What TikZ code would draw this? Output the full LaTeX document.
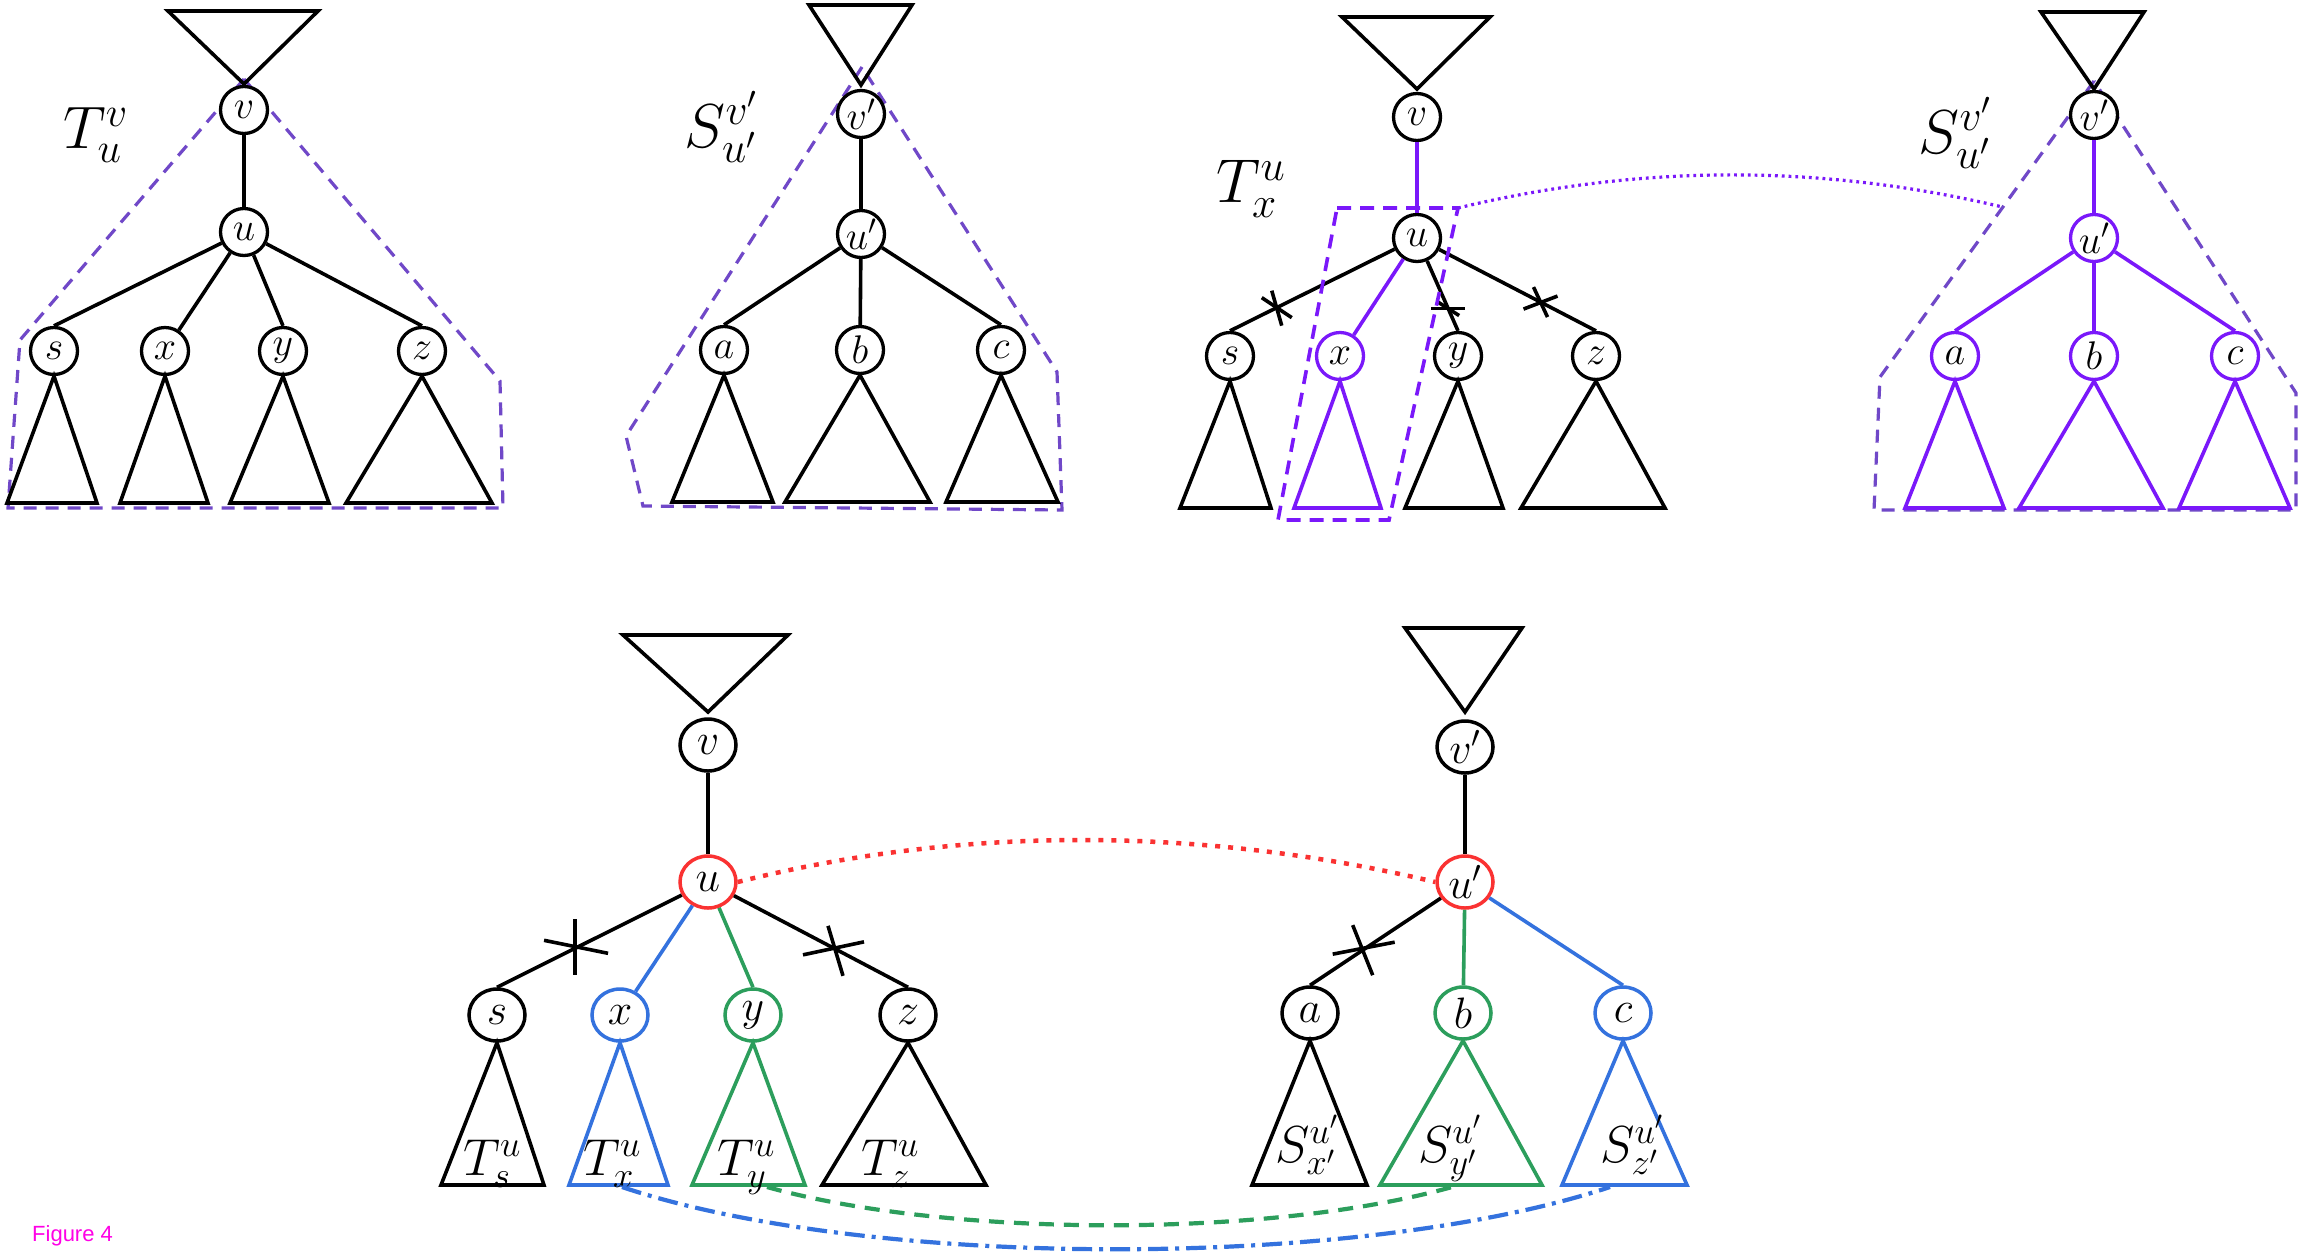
\RequirePackage{fix-cm}
\documentclass[tikz,border=0pt]{standalone}
\usepackage{fontspec}
\newfontfamily\capfont{Liberation Sans}
\usetikzlibrary{shapes.geometric,calc}

\definecolor{hullpurple}{RGB}{112,72,200}
\definecolor{vio}{RGB}{122,24,250}
\definecolor{matchred}{RGB}{250,50,50}
\definecolor{matchblue}{RGB}{52,114,222}
\definecolor{matchgreen}{RGB}{44,158,92}
\definecolor{figmagenta}{RGB}{255,0,230}

\tikzset{
  tree/.style={line width=3.6pt},
  tn/.style={circle, draw, line width=3.3pt, fill=white, minimum size=47pt,
    inner sep=0pt, font=\fontsize{40}{40}\selectfont},
  bn/.style={ellipse, draw, line width=3.5pt, fill=white, minimum width=56pt,
    minimum height=52pt, inner sep=0pt, font=\fontsize{44}{44}\selectfont},
  hull/.style={hullpurple, line width=3.2pt, dash pattern=on 13pt off 9pt},
  boxhull/.style={vio, line width=3.6pt, dash pattern=on 14pt off 9pt},
  biglabel/.style={inner sep=0pt, font=\fontsize{62}{62}\selectfont},
  sublabel/.style={inner sep=0pt, anchor=base west, font=\fontsize{52}{52}\selectfont},
  vlink/.style={vio, line width=3.2pt, dash pattern=on 2.8pt off 4pt},
  redlink/.style={matchred, line width=4.5pt, dash pattern=on 5pt off 8pt},
  greenlink/.style={matchgreen, line width=4.2pt, dash pattern=on 15pt off 10pt},
  bluelink/.style={matchblue, line width=4.2pt, dash pattern=on 20pt off 7pt on 4pt off 7pt},
}

\begin{document}
\begin{tikzpicture}[x=1pt,y=-1pt]
\path[use as bounding box, fill=white] (0,0) rectangle (2304,1251);

%% ---------------- panel 1: T_u^v ----------------
\draw[hull] (244,79) -- (20,340) -- (8,508) -- (503,508) -- (500,381) -- cycle;
\draw[tree] (244,84) -- (168,11) -- (318,11) -- cycle;
\node[tn] (v1) at (244,110) {$v$};
\node[tn] (u1) at (244,232) {$u$};
\node[tn] (s1) at (54,351) {$s$};
\node[tn] (x1) at (165,351) {$x$};
\node[tn] (y1) at (283,351) {$y$};
\node[tn] (z1) at (422,351) {$z$};
\draw[tree] (v1) -- (u1);
\draw[tree] (u1) -- (s1.north);
\draw[tree] (u1) -- (x1);
\draw[tree] (u1) -- (y1.north);
\draw[tree] (u1) -- (z1.north);
\draw[tree] (s1.south) -- (7,503) -- (97,503) -- cycle;
\draw[tree] (x1.south) -- (120,503) -- (208,503) -- cycle;
\draw[tree] (y1.south) -- (230,503) -- (329,503) -- cycle;
\draw[tree] (z1.south) -- (346,503) -- (492,503) -- cycle;
\node[biglabel, anchor=base west, font=\fontsize{60}{60}\selectfont] (l1) at (63,148) {$T_u^v$};

%% ---------------- panel 2: S_{u'}^{v'} ----------------
\draw[hull] (862,67) -- (626,436) -- (643,506) -- (1062,510) -- (1057,372) -- cycle;
\draw[tree] (861,85) -- (809,5) -- (912,5) -- cycle;
\node[tn] (v2) at (861,114) {$v'$};
\node[tn] (u2) at (861,234) {$u'$};
\node[tn] (a2) at (724,350) {$a$};
\node[tn] (b2) at (860,350) {$b$};
\node[tn] (c2) at (1001,350) {$c$};
\draw[tree] (v2) -- (u2);
\draw[tree] (u2) -- (a2.north);
\draw[tree] (u2) -- (b2);
\draw[tree] (u2) -- (c2.north);
\draw[tree] (a2.south) -- (672,502) -- (773,502) -- cycle;
\draw[tree] (b2.south) -- (785,502) -- (930,502) -- cycle;
\draw[tree] (c2.south) -- (946,502) -- (1058,502) -- cycle;
\node[biglabel] (l2) at (721,127) {$S_{u'}^{v'}$};

%% ---------------- panel 3: T_x^u ----------------
\draw[tree] (1417,89) -- (1342,17) -- (1490,17) -- cycle;
\node[tn] (v3) at (1417,117) {$v$};
\node[tn] (u3) at (1417,238) {$u$};
\node[tn] (s3) at (1230,356) {$s$};
\node[tn, draw=vio] (x3) at (1340,356) {$x$};
\node[tn] (y3) at (1458,356) {$y$};
\node[tn] (z3) at (1596,356) {$z$};
\draw[tree, vio] (v3) -- (u3);
\draw[tree] (u3) -- (s3.north);
\draw[tree, vio] (u3) -- (x3);
\draw[tree] (u3) -- (y3.north);
\draw[tree] (u3) -- (z3.north);
\draw[tree] (s3.south) -- (1180,508) -- (1271,508) -- cycle;
\draw[tree, vio] (x3.south) -- (1294,508) -- (1381,508) -- cycle;
\draw[tree] (y3.south) -- (1405,508) -- (1503,508) -- cycle;
\draw[tree] (z3.south) -- (1521,508) -- (1665,508) -- cycle;
% cut marks
\coordinate (k31) at ($(u3)!0.75!(s3.north)$);
\coordinate (k32) at ($(u3)!0.76!(y3.north)$);
\coordinate (k33) at ($(u3)!0.69!(z3.north)$);
\draw[tree] ($(k31)+(-15,-10)$) -- ($(k31)+(15,10)$);
\draw[tree] ($(k31)+(-5,-17)$) -- ($(k31)+(5,18)$);
\draw[tree] ($(k32)+(-17,0)$) -- ($(k32)+(17,0)$);
\draw[tree] ($(k32)+(-11,-7)$) -- ($(k32)+(11,7)$);
\draw[tree] ($(k33)+(-17,7)$) -- ($(k33)+(17,-6)$);
\draw[tree] ($(k33)+(-7,-15)$) -- ($(k33)+(7,15)$);
% box around T_x^u
\coordinate (bxtl) at (1337,208);
\coordinate (bxtr) at (1458,208);
\coordinate (bxbr) at (1389,520);
\coordinate (bxbl) at (1278,520);
\draw[boxhull] (bxtl) -- (bxtr) -- (bxbr) -- (bxbl) -- cycle;
\node[biglabel] (l3) at (1251,189) {$T_x^u$};

%% ---------------- panel 4: S_{u'}^{v'} highlighted ----------------
\coordinate (h4top) at (2094,81);
\coordinate (h4left) at (1880,377);
\draw[hull] (h4top) -- (h4left) -- (1874,510) -- (2296,510) -- (2296,393) -- cycle;
\draw[tree] (2094,89) -- (2041,12) -- (2144,12) -- cycle;
\node[tn] (v4) at (2094,115) {$v'$};
\node[tn, draw=vio] (u4) at (2094,238) {$u'$};
\node[tn, draw=vio] (a4) at (1955,356) {$a$};
\node[tn, draw=vio] (b4) at (2094,356) {$b$};
\node[tn, draw=vio] (c4) at (2235,356) {$c$};
\draw[tree, vio] (v4) -- (u4);
\draw[tree, vio] (u4) -- (a4.north);
\draw[tree, vio] (u4) -- (b4);
\draw[tree, vio] (u4) -- (c4.north);
\draw[tree, vio] (a4.south) -- (1905,508) -- (2004,508) -- cycle;
\draw[tree, vio] (b4.south) -- (2019,508) -- (2163,508) -- cycle;
\draw[tree, vio] (c4.south) -- (2179,508) -- (2290,508) -- cycle;
\node[biglabel] (l4) at (1955,133) {$S_{u'}^{v'}$};
% correspondence of T_x^u with S_{u'}^{v'}
\coordinate (h4hit) at ($(h4top)!0.426!(h4left)$);
\draw[vlink] (bxtr) .. controls (1640,164) and (1822,164) .. (h4hit);

%% ---------------- panel 5: bottom left ----------------
\draw[tree] (708,712) -- (623,635) -- (788,635) -- cycle;
\node[bn] (v5) at (708,745) {$v$};
\node[bn, draw=matchred] (u5) at (708,882) {$u$};
\node[bn] (s5) at (497,1015) {$s$};
\node[bn, draw=matchblue] (x5) at (620,1015) {$x$};
\node[bn, draw=matchgreen] (y5) at (753,1015) {$y$};
\node[bn] (z5) at (908,1015) {$z$};
\draw[tree] (v5) -- (u5);
\draw[tree] (u5) -- (s5.north);
\draw[tree, matchblue] (u5) -- (x5);
\draw[tree, matchgreen] (u5) -- (y5.north);
\draw[tree] (u5) -- (z5.north);
\draw[tree] (s5.south) -- (441,1185) -- (544,1185) -- cycle;
\draw[tree, matchblue] (x5.south) -- (569,1185) -- (668,1185) -- cycle;
\draw[tree, matchgreen] (y5.south) -- (692,1185) -- (805,1185) -- cycle;
\draw[tree] (z5.south) -- (822,1185) -- (986,1185) -- cycle;
\coordinate (k51) at ($(u5)!0.63!(s5.north)$);
\coordinate (k52) at ($(u5)!0.635!(z5.north)$);
\draw[tree] ($(k51)+(-31,-8)$) -- ($(k51)+(33,5)$);
\draw[tree] ($(k51)+(0,-29)$) -- ($(k51)+(0,27)$);
\draw[tree] ($(k52)+(-32,6)$) -- ($(k52)+(29,-7)$);
\draw[tree] ($(k52)+(-7,-23)$) -- ($(k52)+(8,27)$);
\node[sublabel] (ts) at (463,1175) {$T_s^u$};
\node[sublabel] (tx) at (583,1175) {$T_x^u$};
\node[sublabel] (ty) at (717,1175) {$T_y^u$};
\node[sublabel] (tz) at (861,1175) {$T_z^u$};

%% ---------------- panel 6: bottom right ----------------
\draw[tree] (1465,712) -- (1405,628) -- (1522,628) -- cycle;
\node[bn] (v6) at (1465,747) {$v'$};
\node[bn, draw=matchred] (u6) at (1465,882) {$u'$};
\node[bn] (a6) at (1310,1013) {$a$};
\node[bn, draw=matchgreen] (b6) at (1463,1013) {$b$};
\node[bn, draw=matchblue] (c6) at (1623,1013) {$c$};
\draw[tree] (v6) -- (u6);
\draw[tree] (u6) -- (a6.north);
\draw[tree, matchgreen] (u6) -- (b6);
\draw[tree, matchblue] (u6) -- (c6.north);
\draw[tree] (a6.south) -- (1252,1185) -- (1367,1185) -- cycle;
\draw[tree, matchgreen] (b6.south) -- (1380,1185) -- (1542,1185) -- cycle;
\draw[tree, matchblue] (c6.south) -- (1562,1185) -- (1687,1185) -- cycle;
\coordinate (k61) at ($(u6)!0.66!(a6.north)$);
\draw[tree] ($(k61)+(-30,4)$) -- ($(k61)+(32,-8)$);
\draw[tree] ($(k61)+(-10,-25)$) -- ($(k61)+(10,25)$);
\node[sublabel] (sx) at (1275,1162) {$S_{x'}^{u'}$};
\node[sublabel] (sy) at (1418,1162) {$S_{y'}^{u'}$};
\node[sublabel] (sz) at (1600,1162) {$S_{z'}^{u'}$};

%% ---------------- correspondences ----------------
\coordinate (txb) at (622,1187);
\coordinate (tyb) at (767,1187);
\coordinate (syb) at (1452,1187);
\coordinate (szb) at (1610,1187);
\draw[redlink] (u5.east) .. controls (960,826) and (1200,826) .. (u6.west);
\draw[greenlink] (tyb) .. controls (950,1238) and (1270,1238) .. (syb);
\draw[bluelink] (txb) .. controls (870,1270) and (1360,1270) .. (szb);

\node[anchor=base west, inner sep=0pt, text=figmagenta,
  font=\capfont\fontsize{22}{22}\selectfont] (cap) at (32,1241) {Figure 4};
\end{tikzpicture}
\end{document}
